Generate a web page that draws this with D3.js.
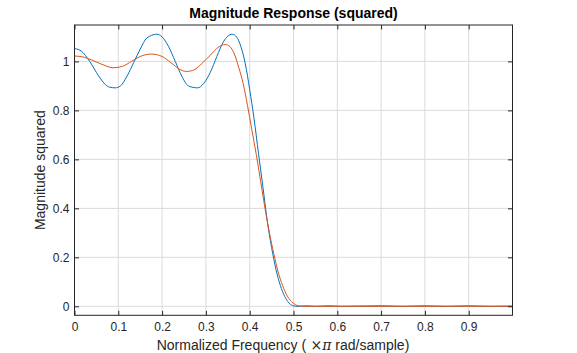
<!DOCTYPE html>
<html lang="en">
<head>
    <meta charset="UTF-8">
    <title>Magnitude Response (squared)</title>
    <script src="https://d3js.org/d3.v7.min.js"></script>
    <style>
        body {
            margin: 0;
            background-color: #ffffff;
            font-family: "Liberation Sans", Arial, Helvetica, sans-serif;
        }
        .tick text {
            font-size: 12px;
            fill: #262626;
        }
        .tick line {
            stroke: #262626;
        }
    </style>
</head>
<body>
    <svg width="577" height="353"></svg>

    <script>
        // Frequency samples (x pi rad/sample) and squared magnitudes
        var blueFreq = [0, 0.01, 0.02, 0.03, 0.04, 0.05, 0.06, 0.07, 0.08, 0.093, 0.105, 0.12, 0.135, 0.15, 0.165, 0.188,
                        0.20, 0.215, 0.23, 0.245, 0.26, 0.281, 0.295, 0.31, 0.325, 0.34, 0.36, 0.37, 0.38, 0.39, 0.40,
                        0.41, 0.42, 0.43, 0.44, 0.45, 0.46, 0.47, 0.48, 0.49, 0.50, 0.51, 0.53, 0.55, 0.58, 0.61, 0.65,
                        0.70, 0.75, 0.80, 0.85, 0.90, 0.95, 1.0];
        var blueMag = [1.052, 1.048, 1.035, 1.012, 0.985, 0.955, 0.928, 0.906, 0.895, 0.892, 0.900, 0.940, 0.995, 1.050, 1.095, 1.111,
                       1.100, 1.060, 1.000, 0.940, 0.900, 0.892, 0.910, 0.955, 1.020, 1.080, 1.111, 1.100, 1.060, 0.990, 0.885,
                       0.765, 0.625, 0.490, 0.350, 0.240, 0.150, 0.085, 0.040, 0.013, 0.002, 0.000, 0.002, 0.000, 0.002, 0.000, 0.001,
                       0.002, 0.000, 0.002, 0.000, 0.002, 0.000, 0.001];

        var orangeFreq = [0, 0.02, 0.04, 0.06, 0.089, 0.11, 0.13, 0.15, 0.175, 0.20, 0.22, 0.24, 0.255, 0.27, 0.29, 0.31, 0.33,
                          0.344, 0.355, 0.365, 0.375, 0.385, 0.395, 0.405, 0.415, 0.425, 0.435, 0.445, 0.455, 0.465, 0.475,
                          0.485, 0.495, 0.505, 0.515, 0.53, 0.60, 0.70, 0.80, 0.90, 1.0];
        var orangeMag = [1.022, 1.018, 1.005, 0.990, 0.974, 0.980, 1.000, 1.020, 1.030, 1.020, 0.995, 0.968, 0.959, 0.963, 0.990, 1.025, 1.060,
                         1.069, 1.060, 1.030, 0.975, 0.910, 0.820, 0.720, 0.620, 0.510, 0.400, 0.300, 0.215, 0.140, 0.085,
                         0.045, 0.020, 0.006, 0.001, 0.000, 0.000, 0.000, 0.000, 0.000, 0.000];

        var xTicks = [0, 0.1, 0.2, 0.3, 0.4, 0.5, 0.6, 0.7, 0.8, 0.9];
        var yTicks = [0, 0.2, 0.4, 0.6, 0.8, 1];

        var blueData = blueFreq.map(function(f, i) { return { f: f, m: blueMag[i] }; });
        var orangeData = orangeFreq.map(function(f, i) { return { f: f, m: orangeMag[i] }; });

        // Axes box
        var box = { left: 74.5, right: 512.5, top: 25, bottom: 315.3 };

        var svg = d3.select("svg");

        var x = d3.scaleLinear()
                  .domain([0, 1])
                  .range([box.left, box.right]);

        var y = d3.scaleLinear()
                  .domain([-0.0367, 1.1486])
                  .range([box.bottom, box.top]);

        // Grid lines
        var grid = svg.append("g")
                      .attr("stroke", "#dadada")
                      .attr("stroke-width", 1);

        grid.selectAll(".vgrid")
            .data(xTicks.filter(function(d) { return d > 0; }))
            .enter().append("line")
            .attr("x1", function(d) { return x(d); })
            .attr("x2", function(d) { return x(d); })
            .attr("y1", box.top)
            .attr("y2", box.bottom);

        grid.selectAll(".hgrid")
            .data(yTicks)
            .enter().append("line")
            .attr("x1", box.left)
            .attr("x2", box.right)
            .attr("y1", function(d) { return y(d); })
            .attr("y2", function(d) { return y(d); });

        // Curves, clipped to the axes
        svg.append("clipPath")
           .attr("id", "clip")
           .append("rect")
           .attr("x", box.left)
           .attr("y", box.top)
           .attr("width", box.right - box.left)
           .attr("height", box.bottom - box.top);

        var line = d3.line()
                     .x(function(d) { return x(d.f); })
                     .y(function(d) { return y(d.m); })
                     .curve(d3.curveMonotoneX);

        var plot = svg.append("g").attr("clip-path", "url(#clip)");

        plot.append("path")
            .datum(blueData)
            .attr("fill", "none")
            .attr("stroke", "#0072bd")
            .attr("stroke-width", 1)
            .attr("d", line);

        plot.append("path")
            .datum(orangeData)
            .attr("fill", "none")
            .attr("stroke", "#d95319")
            .attr("stroke-width", 1)
            .attr("d", line);

        // Axes (ticks point inward)
        var tick = 4.5;

        svg.append("g")
           .attr("transform", "translate(0," + box.bottom + ")")
           .call(d3.axisBottom(x).tickValues(xTicks).tickFormat(d3.format("")).tickSize(-tick).tickPadding(7))
           .call(function(g) { g.select(".domain").remove(); });

        svg.append("g")
           .attr("transform", "translate(0," + box.top + ")")
           .call(d3.axisTop(x).tickValues(xTicks).tickFormat("").tickSize(-tick))
           .call(function(g) { g.select(".domain").remove(); });

        svg.append("g")
           .attr("transform", "translate(" + box.left + ",0)")
           .call(d3.axisLeft(y).tickValues(yTicks).tickFormat(d3.format("")).tickSize(-tick).tickPadding(5))
           .call(function(g) { g.select(".domain").remove(); });

        svg.append("g")
           .attr("transform", "translate(" + box.right + ",0)")
           .call(d3.axisRight(y).tickValues(yTicks).tickFormat("").tickSize(-tick))
           .call(function(g) { g.select(".domain").remove(); });

        svg.selectAll(".tick text").attr("font-family", null).attr("font-size", null);

        // Box
        svg.append("rect")
           .attr("x", box.left)
           .attr("y", box.top)
           .attr("width", box.right - box.left)
           .attr("height", box.bottom - box.top)
           .attr("fill", "none")
           .attr("stroke", "#262626")
           .attr("stroke-width", 1);

        // Title and labels
        svg.append("text")
           .attr("x", (box.left + box.right) / 2)
           .attr("y", 18)
           .attr("text-anchor", "middle")
           .attr("font-size", "14px")
           .attr("font-weight", "bold")
           .attr("fill", "#000")
           .text("Magnitude Response (squared)");

        var xl = svg.append("text")
                    .attr("x", 283)
                    .attr("y", 350)
                    .attr("text-anchor", "middle")
                    .attr("font-size", "14px")
                    .attr("fill", "#262626");
        xl.append("tspan").text("Normalized Frequency (");
        xl.append("tspan").attr("font-family", "'DejaVu Serif', serif").text(" \u00d7");
        xl.append("tspan").attr("font-family", "'DejaVu Serif', serif").attr("font-style", "italic").text("\u03c0");
        xl.append("tspan").text(" rad/sample)");

        svg.append("text")
           .attr("transform", "translate(45," + ((box.top + box.bottom) / 2) + ") rotate(-90)")
           .attr("text-anchor", "middle")
           .attr("font-size", "14px")
           .attr("fill", "#262626")
           .text("Magnitude squared");
    </script>
</body>
</html>
